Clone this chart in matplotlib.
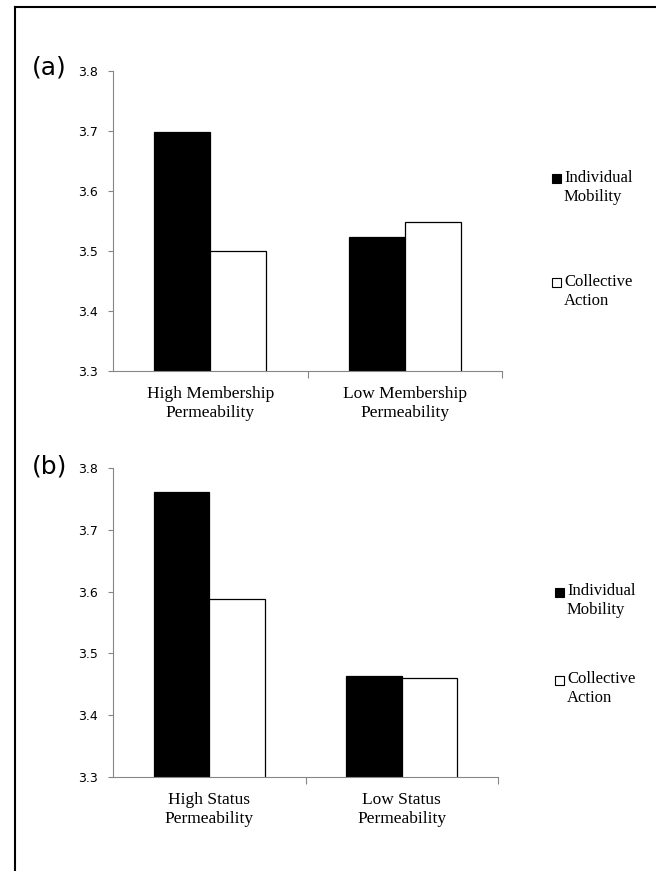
import matplotlib
matplotlib.use("Agg")
import matplotlib.pyplot as plt
from matplotlib.lines import Line2D
from matplotlib.patches import Rectangle
import numpy as np

# data
SERIES = ["Individual\nMobility", "Collective\nAction"]
COLORS = ["black", "white"]

CATS_A = ["High Membership\nPermeability", "Low Membership\nPermeability"]
MOBILITY_A = [3.698, 3.524]
COLLECTIVE_A = [3.500, 3.548]

CATS_B = ["High Status\nPermeability", "Low Status\nPermeability"]
MOBILITY_B = [3.761, 3.463]
COLLECTIVE_B = [3.588, 3.460]

YTICKS = [3.3, 3.4, 3.5, 3.6, 3.7, 3.8]

W, H = 656, 871
fig = plt.figure(figsize=(W / 100, H / 100), dpi=100)


def fx(px):
    return px / W


def fy(py):
    return 1 - py / H


def panel(rect, cats, mob, coll, tag, tag_xy, legend_xy):
    ax = fig.add_axes(rect)
    x = np.arange(len(cats))
    w = 0.288
    ax.bar(x - w / 2, mob, w, color=COLORS[0], edgecolor="black", linewidth=0.9)
    ax.bar(x + w / 2, coll, w, color=COLORS[1], edgecolor="black", linewidth=0.9)
    ax.set_xlim(-0.5, len(cats) - 0.5)
    ax.set_ylim(3.3, 3.8)
    ax.set_yticks(YTICKS)
    ax.set_yticklabels([f"{v:.1f}" for v in YTICKS], family="DejaVu Sans", fontsize=9)
    ax.set_xticks(x)
    ax.set_xticklabels(cats, family="Liberation Serif", fontsize=12.5, linespacing=1.2)
    ax.tick_params(axis="x", length=0, pad=11)
    ax.set_xticks(np.arange(len(cats)) + 0.5, minor=True)
    ax.tick_params(axis="x", which="minor", length=5, color="#868686", width=0.8)
    ax.tick_params(axis="y", length=3.6, color="#868686", width=0.8, pad=7)
    for s in ("top", "right"):
        ax.spines[s].set_visible(False)
    for s in ("left", "bottom"):
        ax.spines[s].set_color("#868686")
        ax.spines[s].set_linewidth(0.8)

    fig.text(fx(tag_xy[0]), fy(tag_xy[1]), tag, family="DejaVu Sans",
             fontsize=18, ha="left", va="center")

    lx, ly = legend_xy
    for i, (lab, col) in enumerate(zip(SERIES, COLORS)):
        yy = ly[i]
        fig.patches.append(Rectangle((fx(lx), fy(yy + 4.5)), fx(9), 9 / H,
                                     facecolor=col, edgecolor="black", linewidth=0.8,
                                     transform=fig.transFigure, figure=fig))
        fig.text(fx(lx + 12), fy(yy - 9), lab, family="Liberation Serif",
                 fontsize=12, ha="left", va="top", linespacing=1.23)
    return ax


panel([fx(113), fy(371), fx(389), 300 / H], CATS_A, MOBILITY_A, COLLECTIVE_A,
      "(a)", (32, 67), (552, [179, 283]))
panel([fx(113), fy(777), fx(385), 309 / H], CATS_B, MOBILITY_B, COLLECTIVE_B,
      "(b)", (32, 466), (555, [592, 680]))

# frame lines at top and left
fig.add_artist(Line2D([fx(15), fx(15)], [fy(7), 0], color="black", lw=1.5,
                      transform=fig.transFigure))
fig.add_artist(Line2D([fx(15), 1], [fy(7), fy(7)], color="black", lw=1.5,
                      transform=fig.transFigure))

fig.savefig("out.png", dpi=100)
